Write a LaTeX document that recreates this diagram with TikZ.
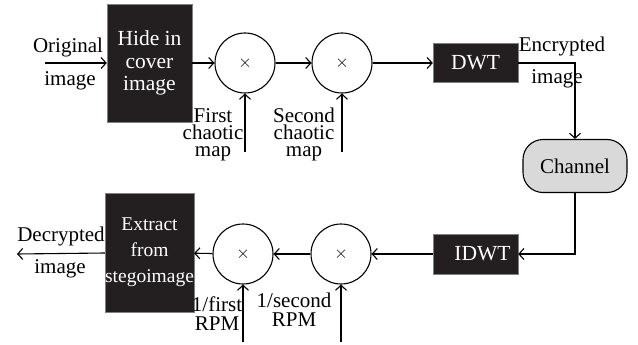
\documentclass[tikz,border=0pt]{standalone}
\usepackage{fontspec}
\setmainfont{Liberation Serif}
\usetikzlibrary{arrows.meta}
\definecolor{boxfill}{HTML}{231F20}
\definecolor{chanfill}{HTML}{D9D9DA}
\tikzset{
  arr/.style={draw, line width=1.1pt, -{Straight Barb[length=5pt,width=11pt,line width=1.1pt]}},
  blk/.style={draw=gray, fill=boxfill, text=white, inner sep=0pt, align=center,
              font=\fontsize{21.5}{22.5}\selectfont},
  mult/.style={circle, draw, line width=1.1pt, minimum size=60pt, inner sep=0pt,
               font=\fontsize{18}{18}\selectfont},
  lbl/.style={inner sep=0pt, align=center, font=\fontsize{21}{17.5}\selectfont},
}
\begin{document}
\begin{tikzpicture}[x=1pt,y=-1pt]
\useasboundingbox (0,0) rectangle (638,345);
% forward chain
\node[blk, minimum width=85pt, minimum height=118pt] (hide) at (149.5,63) {Hide in\\cover\\image};
\node[mult] (m1) at (245,63) {$\times$};
\node[mult] (m2) at (342,63) {$\times$};
\node[blk, minimum width=85pt, minimum height=39pt] (dwt) at (475.5,63) {DWT};
\node[draw, line width=1.1pt, fill=chanfill, rounded corners=20pt, minimum width=104pt,
      minimum height=53pt, inner sep=0pt, font=\fontsize{21}{21}\selectfont] (chan) at (575,166) {Channel};
% inverse chain
\node[blk, minimum width=85pt, minimum height=40pt] (idwt) at (475.5,254) {\hspace*{14pt}IDWT};
\node[mult] (m3) at (341,254) {$\times$};
\node[mult] (m4) at (243,254) {$\times$};
\node[blk, minimum width=85pt, minimum height=119pt, font=\fontsize{19.5}{26}\selectfont] (ext) at (149.5,252.5) {Extract\\from\\stegoimage};
% free ends
\coordinate (oin) at (45,63);
\coordinate (dout) at (17,254);
\coordinate (k1) at (245,152);
\coordinate (k2) at (342,152);
\coordinate (k3) at (243,342);
\coordinate (k4) at (341,342);
% connectors
\draw[arr] (oin) -- (hide);
\draw[arr] (hide) -- (m1);
\draw[arr] (m1) -- (m2);
\draw[arr] (m2) -- (dwt);
\draw[arr] (dwt.east) -| (chan.north);
\draw[arr] (chan.south) |- (idwt.east);
\draw[arr] (idwt) -- (m3);
\draw[arr] (m3) -- (m4);
\draw[arr] (m4) -- (ext);
\draw[arr] (ext) -- (dout);
\draw[arr] (k1) -- (m1.south);
\draw[arr] (k2) -- (m2.south);
\draw[arr] (k3) -- (m4.south);
\draw[arr] (k4) -- (m3.south);
% labels (multi-line labels are placed by their last baseline)
\node[lbl, anchor=base] (t1) at (68,53) {Original};
\node[lbl, anchor=base] (t2) at (70,85) {image};
\node[lbl, anchor=base] (t3) at (562,52) {Encrypted};
\node[lbl, anchor=base] (t4) at (557,84) {image};
\node[lbl, anchor=base] (t5) at (61,241) {Decrypted};
\node[lbl, anchor=base] (t6) at (60,273) {image};
\node[lbl, anchor=base] (t7) at (213,157) {First\\chaotic\\map};
\node[lbl, anchor=base] (t8) at (304,157) {Second\\chaotic\\map};
\node[lbl, anchor=base, font=\fontsize{21}{19}\selectfont] (t9) at (217,330) {1/first\\RPM};
\node[lbl, anchor=base, font=\fontsize{21}{19}\selectfont] (t10) at (294,326) {1/second\\RPM};
\end{tikzpicture}
\end{document}
